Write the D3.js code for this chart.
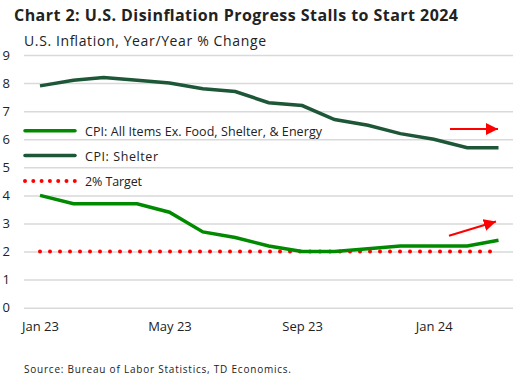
<!DOCTYPE html>
<html>
<head>
<meta charset="utf-8">
<script src="https://cdn.jsdelivr.net/npm/d3@7"></script>
<style>
  body { margin: 0; background: #fff; }
  svg { display: block; font-family: "Open Sans", sans-serif; }
</style>
</head>
<body>
<svg width="516" height="385"></svg>
<script>
// months Jan 2023 .. Mar 2024
var months = ["2023-01","2023-02","2023-03","2023-04","2023-05","2023-06","2023-07","2023-08",
              "2023-09","2023-10","2023-11","2023-12","2024-01","2024-02","2024-03"];
var coreExShelter = [4.0,3.7,3.7,3.7,3.4,2.7,2.5,2.2,2.0,2.0,2.1,2.2,2.2,2.2,2.4];
var shelter = [7.9,8.1,8.2,8.1,8.0,7.8,7.7,7.3,7.2,6.7,6.5,6.2,6.0,5.7,5.7];
var target = [2,2,2,2,2,2,2,2,2,2,2,2,2,2,2];
var yTicks = [0,1,2,3,4,5,6,7,8,9];
var xTicks = ["2023-01","2023-05","2023-09","2024-01"];
var legendLabels = ["CPI: All Items Ex. Food, Shelter, & Energy", "CPI: Shelter", "2% Target"];

var parse = d3.timeParse("%Y-%m");
var dates = months.map(parse);

var svg = d3.select("svg");

var x = d3.scaleTime().domain([dates[0], dates[dates.length - 1]]).range([40, 498.5]);
var y = d3.scaleLinear().domain([0, 9]).range([307.7, 55]);

// title
svg.append("text")
    .attr("x", 14).attr("y", 20.5)
    .attr("textLength", 444).attr("lengthAdjust", "spacing")
    .style("font-size", "16px").style("font-weight", "bold").style("fill", "#222")
    .text("Chart 2: U.S. Disinflation Progress Stalls to Start 2024");

svg.append("text")
    .attr("x", 24).attr("y", 46)
    .attr("textLength", 242).attr("lengthAdjust", "spacing")
    .style("font-size", "14px").style("fill", "#222")
    .text("U.S. Inflation, Year/Year % Change");

// y axis + gridlines
var gy = svg.append("g")
    .attr("transform", "translate(24,0)")
    .call(d3.axisLeft(y).tickValues(yTicks).tickSize(-489).tickPadding(14).tickFormat(d3.format("d")));
gy.select(".domain").remove();
gy.selectAll(".tick line").attr("stroke", "#d9d9d9").attr("stroke-width", 1.5);
gy.selectAll(".tick text").style("font-size", "13px").style("fill", "#222").style("font-family", "Open Sans");

// x axis
var gx = svg.append("g")
    .attr("transform", "translate(0,318)")
    .call(d3.axisBottom(x).tickValues(xTicks.map(parse)).tickSize(0).tickPadding(4).tickFormat(d3.timeFormat("%b %y")));
gx.select(".domain").remove();
gx.selectAll(".tick text").style("font-size", "13px").style("fill", "#222").style("font-family", "Open Sans");

var line = d3.line()
    .x(function(d, i) { return x(dates[i]); })
    .y(function(d) { return y(d); });

// 2% target
svg.append("path")
    .datum(target)
    .attr("d", line)
    .attr("fill", "none").attr("stroke", "#ff0000").attr("stroke-width", 4)
    .attr("stroke-linecap", "round").attr("stroke-dasharray", "0 10");

svg.append("path")
    .datum(shelter)
    .attr("d", line)
    .attr("fill", "none").attr("stroke", "#1e5638").attr("stroke-width", 3.5);

svg.append("path")
    .datum(coreExShelter)
    .attr("d", line)
    .attr("fill", "none").attr("stroke", "#008a00").attr("stroke-width", 3.5);

// legend
var legend = svg.append("g");
var legendY = [130.7, 155.5, 181];
var legendW = [237, 73, 57];
var legendColor = ["#008a00", "#1e5638", "#ff0000"];
legendLabels.forEach(function(lbl, i) {
    var ln = legend.append("line")
        .attr("x1", 25).attr("x2", 75)
        .attr("y1", legendY[i]).attr("y2", legendY[i])
        .attr("stroke", legendColor[i]).attr("stroke-width", i == 2 ? 4 : 3.5)
        .attr("stroke-linecap", "round");
    if (i == 2) ln.attr("stroke-dasharray", "0 8.3");
    legend.append("text")
        .attr("x", 85).attr("y", legendY[i] + 5)
        .attr("textLength", legendW[i]).attr("lengthAdjust", "spacing")
        .style("font-size", "12.5px").style("fill", "#222")
        .text(lbl);
});

// arrows
svg.append("defs").append("marker")
    .attr("id", "head")
    .attr("viewBox", "0 0 10 10").attr("refX", 10).attr("refY", 5)
    .attr("markerWidth", 5.5).attr("markerHeight", 5.5)
    .attr("markerUnits", "strokeWidth").attr("orient", "auto")
    .append("path").attr("d", "M0,0L10,5L0,10Z").attr("fill", "#ff0000");

svg.append("line")
    .attr("x1", 450).attr("y1", 129).attr("x2", 498).attr("y2", 129)
    .attr("stroke", "#ff0000").attr("stroke-width", 2.2).attr("marker-end", "url(#head)");
svg.append("line")
    .attr("x1", 449).attr("y1", 235.7).attr("x2", 496).attr("y2", 221.5)
    .attr("stroke", "#ff0000").attr("stroke-width", 2.2).attr("marker-end", "url(#head)");

// source
svg.append("text")
    .attr("x", 24).attr("y", 373)
    .attr("textLength", 267).attr("lengthAdjust", "spacing")
    .style("font-size", "10px").style("fill", "#222")
    .text("Source: Bureau of Labor Statistics, TD Economics.");
</script>
</body>
</html>
